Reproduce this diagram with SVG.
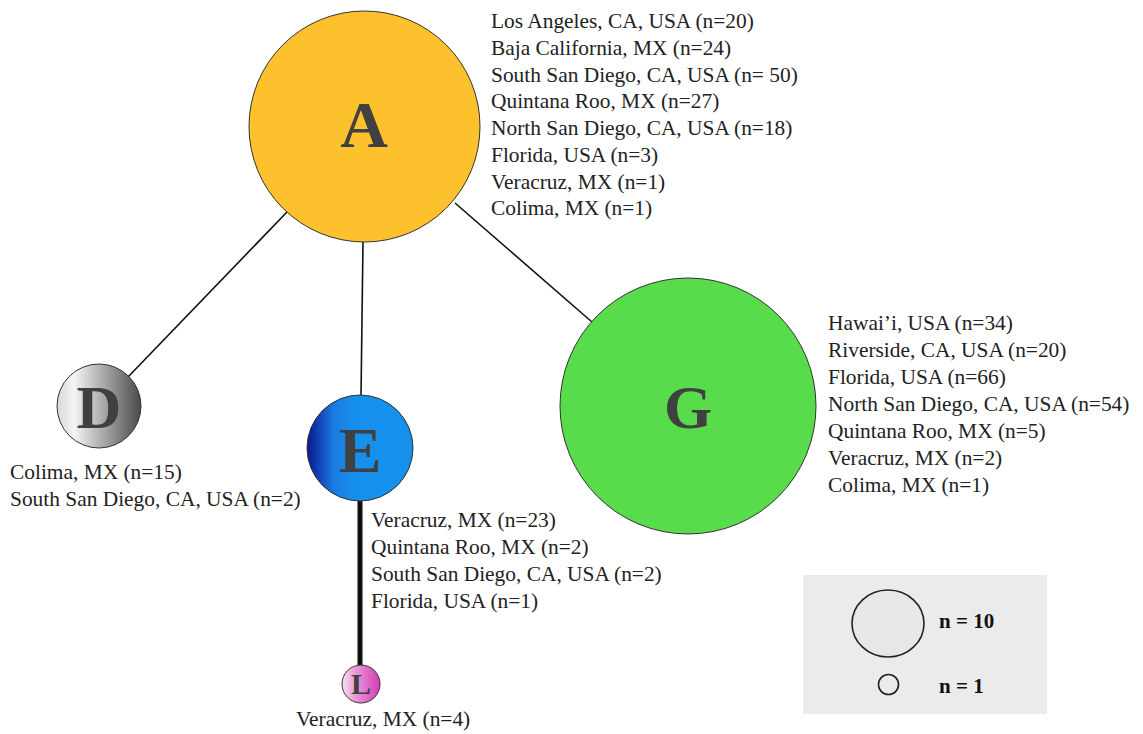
<svg xmlns="http://www.w3.org/2000/svg" width="1143" height="734" viewBox="0 0 1143 734">
<defs>
<linearGradient id="gD" x1="0" y1="0" x2="1" y2="0">
<stop offset="0" stop-color="#d8d8d8"/>
<stop offset="0.2" stop-color="#f4f4f4"/>
<stop offset="1" stop-color="#4a4a4a"/>
</linearGradient>
<linearGradient id="gE" x1="0" y1="0" x2="1" y2="0">
<stop offset="0" stop-color="#0a1690"/>
<stop offset="0.25" stop-color="#1a7ae0"/>
<stop offset="0.45" stop-color="#1590ec"/>
<stop offset="1" stop-color="#1590ec"/>
</linearGradient>
<linearGradient id="gL" x1="0" y1="0" x2="1" y2="0">
<stop offset="0" stop-color="#f8e0f2"/>
<stop offset="0.35" stop-color="#ec98da"/>
<stop offset="1" stop-color="#d23cb4"/>
</linearGradient>
<style>
.node{stroke:#333;stroke-width:1}
.lab{font-family:"Liberation Serif","Times New Roman",serif;font-weight:bold;fill:#404040;text-anchor:middle}
.t{font-family:"Liberation Serif","Times New Roman",serif;font-size:21.4px;fill:#222}
.edge{stroke:#111;stroke-width:1.6;fill:none}
.lg{font-family:"Liberation Serif","Times New Roman",serif;font-size:21px;font-weight:bold;fill:#111}
</style>
</defs>
<rect width="1143" height="734" fill="#fff"/>
<g id="connectors">
<line class="edge" x1="287" y1="212" x2="128" y2="377"/>
<line class="edge" x1="363" y1="242" x2="361" y2="396"/>
<line class="edge" x1="455" y1="203" x2="592" y2="322"/>
<line x1="360" y1="500" x2="360" y2="666" stroke="#111" stroke-width="5"/>
</g>
<g id="node-A">
<circle class="node" cx="364.5" cy="126.5" r="115.5" fill="#fcc12d"/>
<text class="lab" x="364" y="147" font-size="66">A</text>
<text class="t" x="491" y="28">Los Angeles, CA, USA (n=20)</text>
<text class="t" x="491" y="55">Baja California, MX (n=24)</text>
<text class="t" x="491" y="81.5">South San Diego, CA, USA (n= 50)</text>
<text class="t" x="491" y="108">Quintana Roo, MX (n=27)</text>
<text class="t" x="491" y="135">North San Diego, CA, USA (n=18)</text>
<text class="t" x="491" y="162">Florida, USA (n=3)</text>
<text class="t" x="491" y="188.5">Veracruz, MX (n=1)</text>
<text class="t" x="491" y="215">Colima, MX (n=1)</text>
</g>
<g id="node-G">
<circle class="node" cx="688" cy="406" r="128" fill="#58dc4c"/>
<text class="lab" x="688" y="428" font-size="62">G</text>
<text class="t" x="828" y="330">Hawai’i, USA (n=34)</text>
<text class="t" x="828" y="357">Riverside, CA, USA (n=20)</text>
<text class="t" x="828" y="384">Florida, USA (n=66)</text>
<text class="t" x="828" y="411">North San Diego, CA, USA (n=54)</text>
<text class="t" x="828" y="438">Quintana Roo, MX (n=5)</text>
<text class="t" x="828" y="465">Veracruz, MX (n=2)</text>
<text class="t" x="828" y="492">Colima, MX (n=1)</text>
</g>
<g id="node-D">
<circle class="node" cx="99" cy="406" r="42" fill="url(#gD)"/>
<text class="lab" x="99" y="428" font-size="62">D</text>
<text class="t" x="10" y="479">Colima, MX (n=15)</text>
<text class="t" x="10" y="506">South San Diego, CA, USA (n=2)</text>
</g>
<g id="node-E">
<circle class="node" cx="360" cy="448" r="53" fill="url(#gE)"/>
<text class="lab" x="360" y="472" font-size="64">E</text>
<text class="t" x="371" y="527">Veracruz, MX (n=23)</text>
<text class="t" x="371" y="554">Quintana Roo, MX (n=2)</text>
<text class="t" x="371" y="581">South San Diego, CA, USA (n=2)</text>
<text class="t" x="371" y="608">Florida, USA (n=1)</text>
</g>
<g id="node-L">
<circle class="node" cx="361" cy="684" r="19" fill="url(#gL)"/>
<text class="lab" x="361" y="694" font-size="30">L</text>
<text class="t" x="296" y="726">Veracruz, MX (n=4)</text>
</g>
<g id="legend">
<rect x="803" y="575" width="244" height="139" fill="#ebebeb"/>
<ellipse cx="888" cy="623.5" rx="36" ry="33.5" fill="#e6e7e9" stroke="#222" stroke-width="1.6"/>
<circle cx="888.5" cy="684.5" r="10" fill="none" stroke="#222" stroke-width="1.6"/>
<text class="lg" x="939" y="628">n = 10</text>
<text class="lg" x="939" y="693">n = 1</text>
</g>
</svg>
